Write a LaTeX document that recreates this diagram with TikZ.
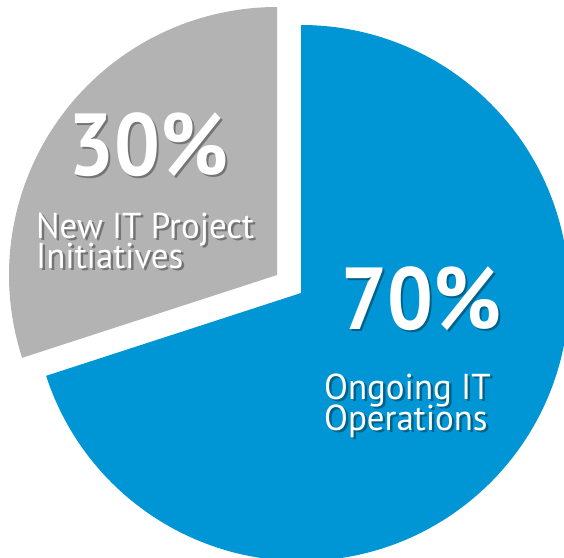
\documentclass[tikz,border=0pt]{standalone}
\usepackage{fontspec}
\setmainfont{PT Sans}
\newfontfamily\pctfont[FakeStretch=0.92]{PT Sans}
\newfontfamily\lblfont[FakeStretch=0.97]{PT Sans}
\definecolor{hpblue}{RGB}{0,150,214}
\definecolor{hpgray}{RGB}{179,179,179}
\tikzset{
  wedgeblue/.style={fill=hpblue, draw=none},
  wedgegray/.style={fill=hpgray, draw=none},
  lbl/.style={anchor=base west, inner sep=0pt, text=white},
  shd/.style={anchor=base west, inner sep=0pt, text=black, opacity=0.35},
  pct/.style={font=\pctfont\bfseries\fontsize{88}{88}\selectfont},
  txt/.style={font=\lblfont\fontsize{36}{36}\selectfont},
}
\begin{document}
\begin{tikzpicture}[x=1pt,y=1pt]
\useasboundingbox (0,0) rectangle (564,-557);
\clip (0,0) rectangle (564,-557);
\coordinate (bc) at (301,-293);
\coordinate (gc) at (277,-275);
% blue wedge 70%
\fill[wedgeblue] (bc) -- ++(90:268) arc[start angle=90, end angle=-162, radius=268] -- cycle;
% gray wedge 30%
\fill[wedgegray] (gc) -- ++(90:268) arc[start angle=90, end angle=198, radius=268] -- cycle;
% shadows
\node[shd,pct] (s30) at (70.5,-177.5) {30\%};
\node[shd,txt] (sa) at (38.5,-240.5) {New IT Project};
\node[shd,txt] (sb) at (38.5,-270.5) {Initiatives};
\node[shd,pct] (s70) at (343.5,-331.5) {70\%};
\node[shd,txt] (sc) at (326.5,-401.5) {Ongoing IT};
\node[shd,txt] (sd) at (326.5,-432.5) {Operations};
% labels
\node[lbl,pct] (p30) at (68,-175) {30\%};
\node[lbl,txt] (la) at (36,-238) {New IT Project};
\node[lbl,txt] (lb) at (36,-268) {Initiatives};
\node[lbl,pct] (p70) at (341,-329) {70\%};
\node[lbl,txt] (lc) at (324,-399) {Ongoing IT};
\node[lbl,txt] (ld) at (324,-430) {Operations};
\end{tikzpicture}
\end{document}
